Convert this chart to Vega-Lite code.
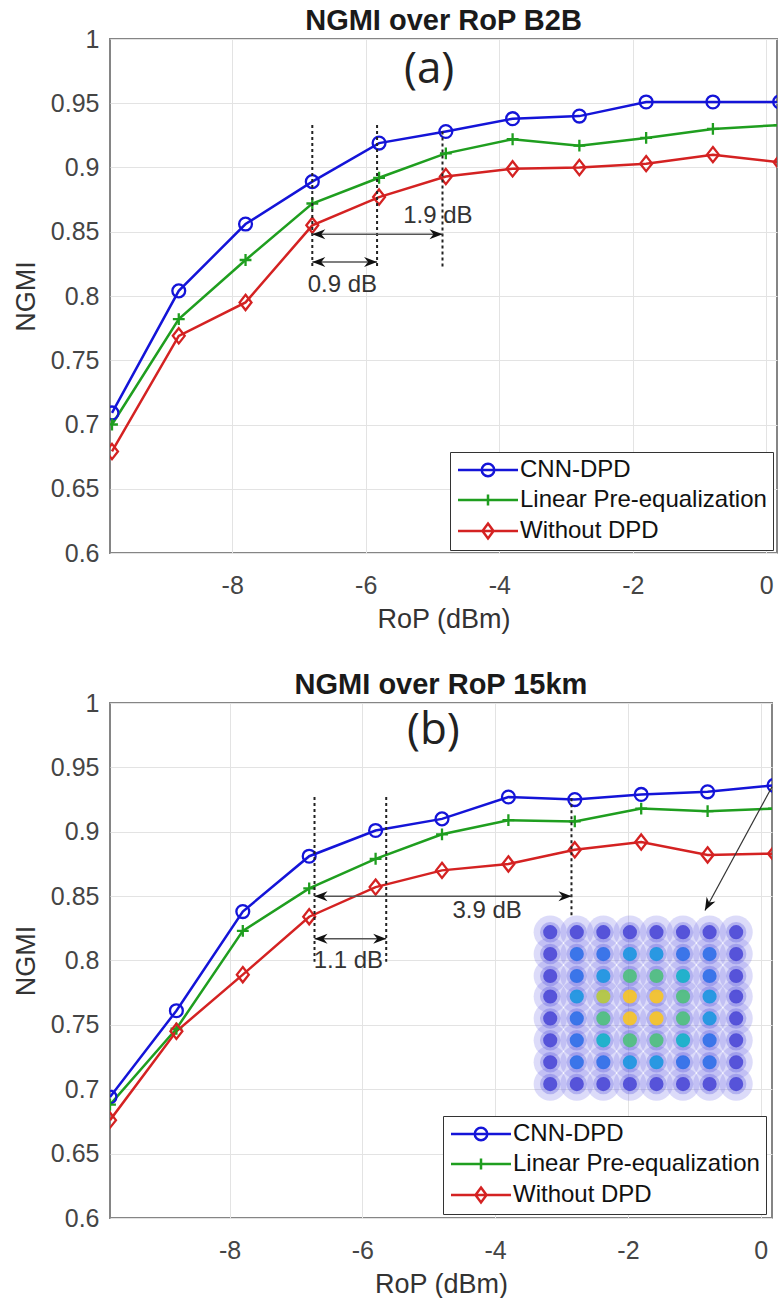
{
  "$schema": "https://vega.github.io/schema/vega-lite/v6.json",
  "padding": {"left": 11, "top": 5, "right": 0, "bottom": 0},
  "background": "white",
  "spacing": 36,
  "resolve": {"scale": {"color": "independent", "fill": "independent"}, "legend": {"color": "independent"}},
  "datasets": {
    "b2b": [
      {"series": "CNN-DPD", "rop": -9.8, "ngmi": 0.709},
      {"series": "CNN-DPD", "rop": -8.8, "ngmi": 0.804},
      {"series": "CNN-DPD", "rop": -7.8, "ngmi": 0.856},
      {"series": "CNN-DPD", "rop": -6.8, "ngmi": 0.889},
      {"series": "CNN-DPD", "rop": -5.8, "ngmi": 0.919},
      {"series": "CNN-DPD", "rop": -4.8, "ngmi": 0.928},
      {"series": "CNN-DPD", "rop": -3.8, "ngmi": 0.938},
      {"series": "CNN-DPD", "rop": -2.8, "ngmi": 0.940},
      {"series": "CNN-DPD", "rop": -1.8, "ngmi": 0.951},
      {"series": "CNN-DPD", "rop": -0.8, "ngmi": 0.951},
      {"series": "CNN-DPD", "rop": 0.2, "ngmi": 0.951},
      {"series": "Linear Pre-equalization", "rop": -9.8, "ngmi": 0.700},
      {"series": "Linear Pre-equalization", "rop": -8.8, "ngmi": 0.782},
      {"series": "Linear Pre-equalization", "rop": -7.8, "ngmi": 0.828},
      {"series": "Linear Pre-equalization", "rop": -6.8, "ngmi": 0.872},
      {"series": "Linear Pre-equalization", "rop": -5.8, "ngmi": 0.892},
      {"series": "Linear Pre-equalization", "rop": -4.8, "ngmi": 0.911},
      {"series": "Linear Pre-equalization", "rop": -3.8, "ngmi": 0.922},
      {"series": "Linear Pre-equalization", "rop": -2.8, "ngmi": 0.917},
      {"series": "Linear Pre-equalization", "rop": -1.8, "ngmi": 0.923},
      {"series": "Linear Pre-equalization", "rop": -0.8, "ngmi": 0.930},
      {"series": "Linear Pre-equalization", "rop": 0.2, "ngmi": 0.933},
      {"series": "Without DPD", "rop": -9.8, "ngmi": 0.679},
      {"series": "Without DPD", "rop": -8.8, "ngmi": 0.769},
      {"series": "Without DPD", "rop": -7.8, "ngmi": 0.795},
      {"series": "Without DPD", "rop": -6.8, "ngmi": 0.855},
      {"series": "Without DPD", "rop": -5.8, "ngmi": 0.877},
      {"series": "Without DPD", "rop": -4.8, "ngmi": 0.893},
      {"series": "Without DPD", "rop": -3.8, "ngmi": 0.899},
      {"series": "Without DPD", "rop": -2.8, "ngmi": 0.900},
      {"series": "Without DPD", "rop": -1.8, "ngmi": 0.903},
      {"series": "Without DPD", "rop": -0.8, "ngmi": 0.910},
      {"series": "Without DPD", "rop": 0.2, "ngmi": 0.904}
    ],
    "km15": [
      {"series": "CNN-DPD", "rop": -9.8, "ngmi": 0.694},
      {"series": "CNN-DPD", "rop": -8.8, "ngmi": 0.761},
      {"series": "CNN-DPD", "rop": -7.8, "ngmi": 0.838},
      {"series": "CNN-DPD", "rop": -6.8, "ngmi": 0.881},
      {"series": "CNN-DPD", "rop": -5.8, "ngmi": 0.901},
      {"series": "CNN-DPD", "rop": -4.8, "ngmi": 0.910},
      {"series": "CNN-DPD", "rop": -3.8, "ngmi": 0.927},
      {"series": "CNN-DPD", "rop": -2.8, "ngmi": 0.925},
      {"series": "CNN-DPD", "rop": -1.8, "ngmi": 0.929},
      {"series": "CNN-DPD", "rop": -0.8, "ngmi": 0.931},
      {"series": "CNN-DPD", "rop": 0.2, "ngmi": 0.936},
      {"series": "Linear Pre-equalization", "rop": -9.8, "ngmi": 0.688},
      {"series": "Linear Pre-equalization", "rop": -8.8, "ngmi": 0.747},
      {"series": "Linear Pre-equalization", "rop": -7.8, "ngmi": 0.823},
      {"series": "Linear Pre-equalization", "rop": -6.8, "ngmi": 0.856},
      {"series": "Linear Pre-equalization", "rop": -5.8, "ngmi": 0.879},
      {"series": "Linear Pre-equalization", "rop": -4.8, "ngmi": 0.898},
      {"series": "Linear Pre-equalization", "rop": -3.8, "ngmi": 0.909},
      {"series": "Linear Pre-equalization", "rop": -2.8, "ngmi": 0.908},
      {"series": "Linear Pre-equalization", "rop": -1.8, "ngmi": 0.918},
      {"series": "Linear Pre-equalization", "rop": -0.8, "ngmi": 0.916},
      {"series": "Linear Pre-equalization", "rop": 0.2, "ngmi": 0.918},
      {"series": "Without DPD", "rop": -9.8, "ngmi": 0.676},
      {"series": "Without DPD", "rop": -8.8, "ngmi": 0.745},
      {"series": "Without DPD", "rop": -7.8, "ngmi": 0.789},
      {"series": "Without DPD", "rop": -6.8, "ngmi": 0.834},
      {"series": "Without DPD", "rop": -5.8, "ngmi": 0.857},
      {"series": "Without DPD", "rop": -4.8, "ngmi": 0.870},
      {"series": "Without DPD", "rop": -3.8, "ngmi": 0.875},
      {"series": "Without DPD", "rop": -2.8, "ngmi": 0.886},
      {"series": "Without DPD", "rop": -1.8, "ngmi": 0.892},
      {"series": "Without DPD", "rop": -0.8, "ngmi": 0.882},
      {"series": "Without DPD", "rop": 0.2, "ngmi": 0.883}
    ],
    "vlinesA": [
      {"x": -6.8, "y1": 0.933, "y2": 0.823},
      {"x": -5.83, "y1": 0.933, "y2": 0.823},
      {"x": -4.85, "y1": 0.928, "y2": 0.823}
    ],
    "arrowsA": [
      {"x1": -6.8, "x2": -4.85, "y": 0.848},
      {"x1": -6.8, "x2": -5.83, "y": 0.8265}
    ],
    "textA": [
      {"x": -4.92, "y": 0.862, "label": "1.9 dB"},
      {"x": -6.35, "y": 0.8087, "label": "0.9 dB"}
    ],
    "panelA": [{"x": -5.05, "y": 0.9755, "label": "(a)"}],
    "vlinesB": [
      {"x": -6.72, "y1": 0.927, "y2": 0.799},
      {"x": -5.64, "y1": 0.927, "y2": 0.799},
      {"x": -2.85, "y1": 0.926, "y2": 0.834}
    ],
    "arrowsB": [
      {"x1": -6.72, "x2": -2.85, "y": 0.85},
      {"x1": -6.72, "x2": -5.64, "y": 0.8168}
    ],
    "textB": [
      {"x": -4.12, "y": 0.8388, "label": "3.9 dB"},
      {"x": -6.21, "y": 0.800, "label": "1.1 dB"}
    ],
    "panelB": [{"x": -4.93, "y": 0.978, "label": "(b)"}],
    "pointerB": [{"x1": 0.17, "y1": 0.935, "x2": -0.84, "y2": 0.8388}],
    "constellation": [
      {"cx": -3.17, "cy": 0.822, "level": 0}, {"cx": -2.77, "cy": 0.822, "level": 0}, {"cx": -2.37, "cy": 0.822, "level": 0}, {"cx": -1.97, "cy": 0.822, "level": 0}, {"cx": -1.57, "cy": 0.822, "level": 0}, {"cx": -1.17, "cy": 0.822, "level": 0}, {"cx": -0.77, "cy": 0.822, "level": 0}, {"cx": -0.37, "cy": 0.822, "level": 0},
      {"cx": -3.17, "cy": 0.805, "level": 0}, {"cx": -2.77, "cy": 0.805, "level": 1}, {"cx": -2.37, "cy": 0.805, "level": 1}, {"cx": -1.97, "cy": 0.805, "level": 2}, {"cx": -1.57, "cy": 0.805, "level": 2}, {"cx": -1.17, "cy": 0.805, "level": 1}, {"cx": -0.77, "cy": 0.805, "level": 1}, {"cx": -0.37, "cy": 0.805, "level": 0},
      {"cx": -3.17, "cy": 0.788, "level": 0}, {"cx": -2.77, "cy": 0.788, "level": 1}, {"cx": -2.37, "cy": 0.788, "level": 2}, {"cx": -1.97, "cy": 0.788, "level": 4}, {"cx": -1.57, "cy": 0.788, "level": 4}, {"cx": -1.17, "cy": 0.788, "level": 3}, {"cx": -0.77, "cy": 0.788, "level": 1}, {"cx": -0.37, "cy": 0.788, "level": 0},
      {"cx": -3.17, "cy": 0.772, "level": 0}, {"cx": -2.77, "cy": 0.772, "level": 2}, {"cx": -2.37, "cy": 0.772, "level": 5}, {"cx": -1.97, "cy": 0.772, "level": 6}, {"cx": -1.57, "cy": 0.772, "level": 6}, {"cx": -1.17, "cy": 0.772, "level": 4}, {"cx": -0.77, "cy": 0.772, "level": 2}, {"cx": -0.37, "cy": 0.772, "level": 0},
      {"cx": -3.17, "cy": 0.755, "level": 0}, {"cx": -2.77, "cy": 0.755, "level": 1}, {"cx": -2.37, "cy": 0.755, "level": 4}, {"cx": -1.97, "cy": 0.755, "level": 6}, {"cx": -1.57, "cy": 0.755, "level": 6}, {"cx": -1.17, "cy": 0.755, "level": 4}, {"cx": -0.77, "cy": 0.755, "level": 2}, {"cx": -0.37, "cy": 0.755, "level": 0},
      {"cx": -3.17, "cy": 0.738, "level": 0}, {"cx": -2.77, "cy": 0.738, "level": 1}, {"cx": -2.37, "cy": 0.738, "level": 3}, {"cx": -1.97, "cy": 0.738, "level": 4}, {"cx": -1.57, "cy": 0.738, "level": 4}, {"cx": -1.17, "cy": 0.738, "level": 3}, {"cx": -0.77, "cy": 0.738, "level": 1}, {"cx": -0.37, "cy": 0.738, "level": 0},
      {"cx": -3.17, "cy": 0.721, "level": 0}, {"cx": -2.77, "cy": 0.721, "level": 1}, {"cx": -2.37, "cy": 0.721, "level": 1}, {"cx": -1.97, "cy": 0.721, "level": 2}, {"cx": -1.57, "cy": 0.721, "level": 2}, {"cx": -1.17, "cy": 0.721, "level": 1}, {"cx": -0.77, "cy": 0.721, "level": 1}, {"cx": -0.37, "cy": 0.721, "level": 0},
      {"cx": -3.17, "cy": 0.704, "level": 0}, {"cx": -2.77, "cy": 0.704, "level": 0}, {"cx": -2.37, "cy": 0.704, "level": 0}, {"cx": -1.97, "cy": 0.704, "level": 0}, {"cx": -1.57, "cy": 0.704, "level": 0}, {"cx": -1.17, "cy": 0.704, "level": 0}, {"cx": -0.77, "cy": 0.704, "level": 0}, {"cx": -0.37, "cy": 0.704, "level": 0}
    ]
  },
  "vconcat": [
    {
      "width": 667,
      "height": 514,
      "title": {"text": "NGMI over RoP B2B", "fontSize": 29, "fontWeight": "bold", "color": "#1a1a1a", "offset": -8.5},
      "encoding": {
        "x": {"type": "quantitative", "scale": {"domain": [-9.83, 0.16], "nice": false, "zero": false}, "axis": {"values": [-8, -6, -4, -2, 0], "title": "RoP (dBm)", "labelExpr": "datum.value < 0 ? '-' + abs(datum.value) : '' + datum.value"}},
        "y": {"type": "quantitative", "scale": {"domain": [0.6, 1], "nice": false, "zero": false}, "axis": {"values": [0.6, 0.65, 0.7, 0.75, 0.8, 0.85, 0.9, 0.95, 1], "format": ".2~f", "title": "NGMI"}}
      },
      "layer": [
        {
          "data": {"name": "b2b"},
          "mark": {"type": "line", "strokeWidth": 2.5, "clip": true},
          "encoding": {
            "x": {"field": "rop"},
            "y": {"field": "ngmi"},
            "color": {"field": "series", "type": "nominal",
              "scale": {"domain": ["CNN-DPD", "Linear Pre-equalization", "Without DPD"], "range": ["#1414d8", "#1f9e1f", "#d42222"]},
              "legend": {"title": null, "orient": "none", "legendX": 340, "legendY": 413,
                "encode": {"symbols": {"update": {
                  "shape": {"signal": "datum.value === 'CNN-DPD' ? 'M-6,0H6M-1.25,0A1.25,1.25 0 1,0 1.25,0A1.25,1.25 0 1,0 -1.25,0' : datum.value === 'Linear Pre-equalization' ? 'M-6,0H6M0,-1.1V1.1' : 'M-6,0H6M0,-1.5L1.1,0L0,1.5L-1.1,0Z'"},
                  "fill": {"value": "transparent"},
                  "strokeWidth": {"value": 2.5},
                  "opacity": {"value": 1},
                  "size": {"value": 100}}}}}}
          }
        },
        {
          "data": {"name": "b2b"},
          "transform": [{"filter": "datum.series === 'CNN-DPD'"}],
          "mark": {"type": "point", "filled": false, "opacity": 1, "strokeWidth": 2.3, "size": 165, "shape": "circle", "clip": true},
          "encoding": {"x": {"field": "rop"}, "y": {"field": "ngmi"}, "color": {"field": "series", "type": "nominal"}}
        },
        {
          "data": {"name": "b2b"},
          "transform": [{"filter": "datum.series === 'Linear Pre-equalization'"}],
          "mark": {"type": "point", "filled": false, "opacity": 1, "strokeWidth": 2.3, "size": 140, "shape": "M-1,0H1M0,-1V1", "clip": true},
          "encoding": {"x": {"field": "rop"}, "y": {"field": "ngmi"}, "color": {"field": "series", "type": "nominal"}}
        },
        {
          "data": {"name": "b2b"},
          "transform": [{"filter": "datum.series === 'Without DPD'"}],
          "mark": {"type": "point", "filled": false, "opacity": 1, "strokeWidth": 2.3, "size": 175, "shape": "M0,-1.15L0.9,0L0,1.15L-0.9,0Z", "clip": true},
          "encoding": {"x": {"field": "rop"}, "y": {"field": "ngmi"}, "color": {"field": "series", "type": "nominal"}}
        },
        {
          "data": {"name": "vlinesA"},
          "mark": {"type": "rule", "strokeDash": [3, 3], "strokeWidth": 2, "color": "#222222"},
          "encoding": {"x": {"field": "x"}, "y": {"field": "y1"}, "y2": {"field": "y2"}}
        },
        {
          "data": {"name": "arrowsA"},
          "mark": {"type": "rule", "strokeWidth": 1.5, "color": "#555555"},
          "encoding": {"x": {"field": "x1"}, "x2": {"field": "x2"}, "y": {"field": "y"}}
        },
        {
          "data": {"name": "arrowsA"},
          "mark": {"type": "point", "filled": true, "color": "#111111", "size": 100, "shape": "M0,0L-2.6,-1L-1.8,0L-2.6,1Z", "opacity": 1},
          "encoding": {"x": {"field": "x2"}, "y": {"field": "y"}}
        },
        {
          "data": {"name": "arrowsA"},
          "mark": {"type": "point", "filled": true, "color": "#111111", "size": 100, "shape": "M0,0L2.6,-1L1.8,0L2.6,1Z", "opacity": 1},
          "encoding": {"x": {"field": "x1"}, "y": {"field": "y"}}
        },
        {
          "data": {"name": "textA"},
          "mark": {"type": "text", "fontSize": 24, "color": "#333333", "align": "center", "baseline": "middle"},
          "encoding": {"x": {"field": "x"}, "y": {"field": "y"}, "text": {"field": "label"}}
        },
        {
          "data": {"name": "panelA"},
          "mark": {"type": "text", "fontSize": 44, "font": "Open Sans", "color": "#222222", "align": "center", "baseline": "middle"},
          "encoding": {"x": {"field": "x"}, "y": {"field": "y"}, "text": {"field": "label"}}
        }
      ]
    },
    {
      "width": 662,
      "height": 515,
      "title": {"text": "NGMI over RoP 15km", "fontSize": 29, "fontWeight": "bold", "color": "#1a1a1a", "offset": -8.5},
      "encoding": {
        "x": {"type": "quantitative", "scale": {"domain": [-9.8, 0.17], "nice": false, "zero": false}, "axis": {"values": [-8, -6, -4, -2, 0], "title": "RoP (dBm)", "labelExpr": "datum.value < 0 ? '-' + abs(datum.value) : '' + datum.value"}},
        "y": {"type": "quantitative", "scale": {"domain": [0.6, 1], "nice": false, "zero": false}, "axis": {"values": [0.6, 0.65, 0.7, 0.75, 0.8, 0.85, 0.9, 0.95, 1], "format": ".2~f", "title": "NGMI"}}
      },
      "layer": [
        {
          "data": {"name": "constellation"},
          "mark": {"type": "point", "filled": true, "color": "#7673e8", "opacity": 0.26, "size": 1100, "clip": true},
          "encoding": {"x": {"field": "cx"}, "y": {"field": "cy"}}
        },
        {
          "data": {"name": "constellation"},
          "mark": {"type": "point", "filled": true, "color": "#5552da", "opacity": 0.3, "size": 420, "clip": true},
          "encoding": {"x": {"field": "cx"}, "y": {"field": "cy"}}
        },
        {
          "data": {"name": "constellation"},
          "mark": {"type": "point", "filled": true, "opacity": 0.9, "size": 200, "strokeWidth": 0, "clip": true},
          "encoding": {"x": {"field": "cx"}, "y": {"field": "cy"},
            "fill": {"field": "level", "type": "ordinal", "scale": {"domain": [0, 1, 2, 3, 4, 5, 6], "range": ["#4b48d6", "#2e6ee8", "#1a95e0", "#12b0c8", "#4cbf7c", "#b5c93a", "#f7c424"]}, "legend": null}}
        },
        {
          "data": {"name": "km15"},
          "mark": {"type": "line", "strokeWidth": 2.5, "clip": true},
          "encoding": {
            "x": {"field": "rop"},
            "y": {"field": "ngmi"},
            "color": {"field": "series", "type": "nominal",
              "scale": {"domain": ["CNN-DPD", "Linear Pre-equalization", "Without DPD"], "range": ["#1414d8", "#1f9e1f", "#d42222"]},
              "legend": {"title": null, "orient": "none", "legendX": 333, "legendY": 413,
                "encode": {"symbols": {"update": {
                  "shape": {"signal": "datum.value === 'CNN-DPD' ? 'M-6,0H6M-1.25,0A1.25,1.25 0 1,0 1.25,0A1.25,1.25 0 1,0 -1.25,0' : datum.value === 'Linear Pre-equalization' ? 'M-6,0H6M0,-1.1V1.1' : 'M-6,0H6M0,-1.5L1.1,0L0,1.5L-1.1,0Z'"},
                  "fill": {"value": "transparent"},
                  "strokeWidth": {"value": 2.5},
                  "opacity": {"value": 1},
                  "size": {"value": 100}}}}}}
          }
        },
        {
          "data": {"name": "km15"},
          "transform": [{"filter": "datum.series === 'CNN-DPD'"}],
          "mark": {"type": "point", "filled": false, "opacity": 1, "strokeWidth": 2.3, "size": 165, "shape": "circle", "clip": true},
          "encoding": {"x": {"field": "rop"}, "y": {"field": "ngmi"}, "color": {"field": "series", "type": "nominal"}}
        },
        {
          "data": {"name": "km15"},
          "transform": [{"filter": "datum.series === 'Linear Pre-equalization'"}],
          "mark": {"type": "point", "filled": false, "opacity": 1, "strokeWidth": 2.3, "size": 140, "shape": "M-1,0H1M0,-1V1", "clip": true},
          "encoding": {"x": {"field": "rop"}, "y": {"field": "ngmi"}, "color": {"field": "series", "type": "nominal"}}
        },
        {
          "data": {"name": "km15"},
          "transform": [{"filter": "datum.series === 'Without DPD'"}],
          "mark": {"type": "point", "filled": false, "opacity": 1, "strokeWidth": 2.3, "size": 175, "shape": "M0,-1.15L0.9,0L0,1.15L-0.9,0Z", "clip": true},
          "encoding": {"x": {"field": "rop"}, "y": {"field": "ngmi"}, "color": {"field": "series", "type": "nominal"}}
        },
        {
          "data": {"name": "vlinesB"},
          "mark": {"type": "rule", "strokeDash": [3, 3], "strokeWidth": 2, "color": "#222222"},
          "encoding": {"x": {"field": "x"}, "y": {"field": "y1"}, "y2": {"field": "y2"}}
        },
        {
          "data": {"name": "arrowsB"},
          "mark": {"type": "rule", "strokeWidth": 1.5, "color": "#555555"},
          "encoding": {"x": {"field": "x1"}, "x2": {"field": "x2"}, "y": {"field": "y"}}
        },
        {
          "data": {"name": "arrowsB"},
          "mark": {"type": "point", "filled": true, "color": "#111111", "size": 100, "shape": "M0,0L-2.6,-1L-1.8,0L-2.6,1Z", "opacity": 1},
          "encoding": {"x": {"field": "x2"}, "y": {"field": "y"}}
        },
        {
          "data": {"name": "arrowsB"},
          "mark": {"type": "point", "filled": true, "color": "#111111", "size": 100, "shape": "M0,0L2.6,-1L1.8,0L2.6,1Z", "opacity": 1},
          "encoding": {"x": {"field": "x1"}, "y": {"field": "y"}}
        },
        {
          "data": {"name": "pointerB"},
          "mark": {"type": "rule", "strokeWidth": 1.2, "color": "#333333"},
          "encoding": {"x": {"field": "x1"}, "y": {"field": "y1"}, "x2": {"field": "x2"}, "y2": {"field": "y2"}}
        },
        {
          "data": {"name": "pointerB"},
          "mark": {"type": "point", "filled": true, "color": "#111111", "size": 100, "shape": "M0,0L-2.6,-1L-1.8,0L-2.6,1Z", "angle": 118, "opacity": 1},
          "encoding": {"x": {"field": "x2"}, "y": {"field": "y2"}}
        },
        {
          "data": {"name": "textB"},
          "mark": {"type": "text", "fontSize": 24, "color": "#333333", "align": "center", "baseline": "middle"},
          "encoding": {"x": {"field": "x"}, "y": {"field": "y"}, "text": {"field": "label"}}
        },
        {
          "data": {"name": "panelB"},
          "mark": {"type": "text", "fontSize": 44, "font": "Open Sans", "color": "#222222", "align": "center", "baseline": "middle"},
          "encoding": {"x": {"field": "x"}, "y": {"field": "y"}, "text": {"field": "label"}}
        }
      ]
    }
  ],
  "config": {
    "font": "Liberation Sans",
    "view": {"stroke": "#858585", "strokeWidth": 2},
    "axis": {"grid": true, "gridColor": "#e3e3e3", "gridWidth": 1, "ticks": false, "domain": false,
      "labelFont": "Liberation Sans", "labelFontSize": 25, "labelColor": "#454545",
      "titleFont": "Liberation Sans", "titleFontSize": 27, "titleFontWeight": "normal", "titleColor": "#333333"},
    "axisX": {"labelPadding": 20, "titlePadding": 8, "labelFlush": false},
    "axisY": {"labelPadding": 11, "titlePadding": 10},
    "legend": {"labelFont": "Liberation Sans", "labelFontSize": 24, "labelColor": "#111111", "labelLimit": 400, "strokeColor": "#333333", "fillColor": "white", "padding": 6, "rowPadding": 6, "symbolOffset": 20, "labelOffset": 20, "symbolStrokeWidth": 2.5},
    "title": {"font": "Liberation Sans", "anchor": "middle"}
  }
}
